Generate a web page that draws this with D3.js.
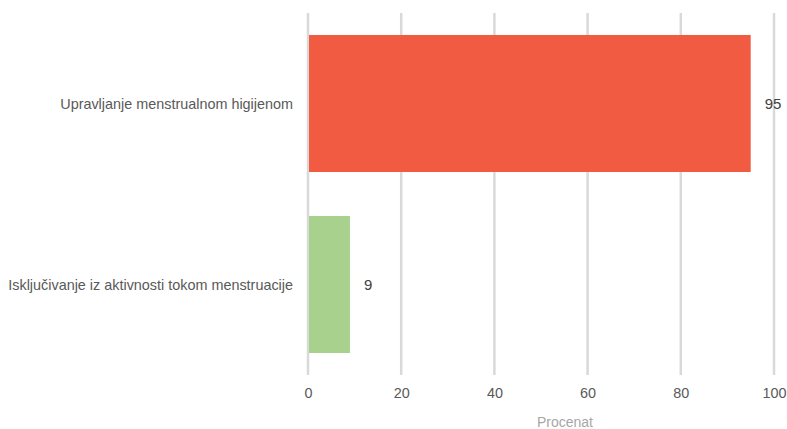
<!DOCTYPE html>
<html>
<head>
<meta charset="utf-8">
<script src="https://cdn.jsdelivr.net/npm/d3@7"></script>
<style>
html,body{margin:0;padding:0;background:#fff;}
svg{display:block;font-family:"Liberation Sans Narrow","Liberation Sans",Arial,sans-serif;}
</style>
</head>
<body>
<svg id="chart" width="787" height="429"></svg>
<script>
const categories = ["Upravljanje menstrualnom higijenom", "Isključivanje iz aktivnosti tokom menstruacije"];
const values = [95, 9];
const colors = ["#F15B41", "#A9D18E"];
const tickValues = [0, 20, 40, 60, 80, 100];
const axisTitle = "Procenat";

const svg = d3.select("#chart");
const x = d3.scaleLinear().domain([0, 100]).range([308, 774]);
const y = d3.scaleBand().domain(categories).range([13, 375]).paddingInner(0.243).paddingOuter(0.1215);

// gridlines
svg.append("g").selectAll("line").data(tickValues).join("line")
  .attr("x1", d => x(d)).attr("x2", d => x(d))
  .attr("y1", 13).attr("y2", 375)
  .attr("stroke", "#d9d9d9").attr("stroke-width", 2.5);

// bars
svg.append("g").selectAll("rect").data(values).join("rect")
  .attr("x", x(0) + 1)
  .attr("y", (d, i) => y(categories[i]))
  .attr("width", d => x(d) - x(0) - 1)
  .attr("height", y.bandwidth())
  .attr("fill", (d, i) => colors[i]);

// value labels
svg.append("g").selectAll("text").data(values).join("text")
  .attr("x", d => x(d) + 14)
  .attr("y", (d, i) => y(categories[i]) + y.bandwidth() / 2)
  .attr("dy", "0.35em")
  .attr("font-size", 15)
  .attr("fill", "#404040")
  .text(d => d);

// category labels
svg.append("g").selectAll("text").data(categories).join("text")
  .attr("x", 293)
  .attr("y", d => y(d) + y.bandwidth() / 2)
  .attr("dy", "0.35em")
  .attr("text-anchor", "end")
  .attr("font-size", 14.4)
  .attr("fill", "#595959")
  .text(d => d);

// x axis
const xAxis = d3.axisBottom(x).tickValues(tickValues).tickSize(0).tickPadding(0);
const gx = svg.append("g").attr("transform", "translate(0,388)").call(xAxis);
gx.select(".domain").remove();
gx.selectAll("text").attr("font-size", 14.4).attr("fill", "#595959")
  .attr("font-family", "Liberation Sans Narrow, Liberation Sans, Arial, sans-serif");

svg.append("text")
  .attr("x", 565).attr("y", 427)
  .attr("text-anchor", "middle")
  .attr("font-size", 14)
  .attr("fill", "#a6a6a6")
  .text(axisTitle);
</script>
</body>
</html>
